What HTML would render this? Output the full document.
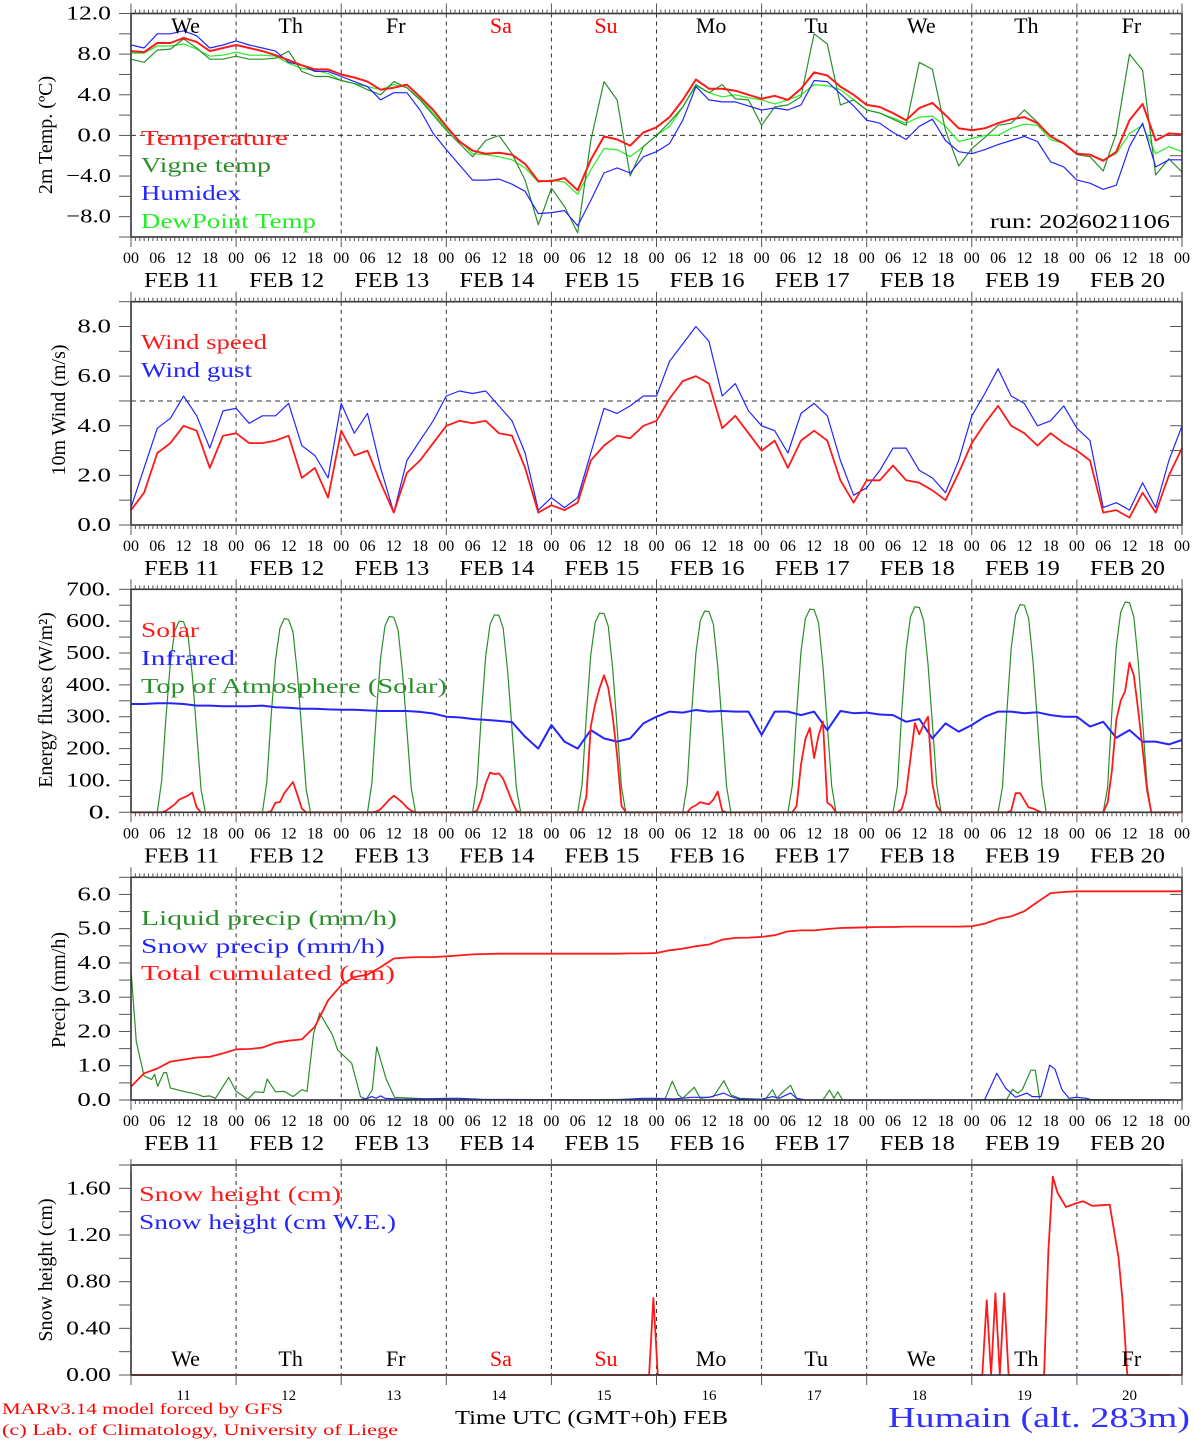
<!DOCTYPE html>
<html><head><meta charset="utf-8"><title>MAR forecast Humain</title>
<style>
html,body{margin:0;padding:0;background:#fff;}
svg{display:block;font-family:"Liberation Serif","DejaVu Serif",serif;}
</style></head>
<body>
<svg id="chart" width="1194" height="1440" viewBox="0 0 1194 1440" xmlns="http://www.w3.org/2000/svg">
<rect x="0" y="0" width="1194" height="1440" fill="#fff"/>
<g id="grid"></g>
<g id="series"></g>
<g id="axes"></g>
<g id="labels"></g>
</svg>
<script>
// ---------- data (3-hourly, 81 points from FEB 11 00 UTC) ----------
const days = ["11","12","13","14","15","16","17","18","19","20"];
const dayNames = ["We","Th","Fr","Sa","Su","Mo","Tu","We","Th","Fr"];
const dayColors = ["#000","#000","#000","#f00","#f00","#000","#000","#000","#000","#000"];
const hourLabels = ["00","06","12","18"];

const tempVals = [8.3,8.2,9.1,9.1,9.6,9.2,8.3,8.6, 8.9,8.6,8.3,7.9,7.4,6.9,6.5,6.5, 6.0,5.7,5.3,4.5,4.7,5.0,3.8,2.5, 0.9,-0.6,-1.5,-1.8,-1.7,-1.9,-2.8,-4.5, -4.5,-4.2,-5.4,-2.4,-0.1,-0.4,-1.0,0.3,
 0.8,1.8,3.5,5.5,4.6,4.6,4.4,4.0, 3.6,3.9,3.5,4.6,6.2,5.9,4.8,4.0, 3.0,2.8,2.2,1.5,2.7,3.2,2.0,0.7, 0.5,0.7,1.2,1.6,1.8,1.2,-0.1,-0.8, -1.8,-1.9,-2.5,-1.6,1.5,3.1,-0.5,0.2, 0.1];
const vigneVals = [7.5,7.2,8.4,8.5,9.5,8.6,7.5,7.5, 7.8,7.5,7.5,7.6,8.3,6.3,5.8,5.8, 5.4,5.1,4.5,4.0,5.3,4.7,3.5,2.0, 0.5,-0.8,-2.1,-0.5,0.0,-1.8,-4.4,-8.8, -5.2,-7.0,-9.6,-0.5,5.3,3.5,-4.0,-1.1,
 0.0,1.3,2.8,5.0,4.2,5.0,3.6,3.5, 1.0,2.8,3.0,3.8,10.0,9.0,3.0,3.5, 2.5,2.2,1.6,1.0,7.2,6.5,0.5,-3.0, -1.3,-0.2,1.0,1.2,2.5,1.3,-0.1,-0.8, -1.9,-2.1,-3.5,0.2,8.0,6.4,-3.9,-2.3, -3.6];
const humidexVals = [8.9,8.6,10.0,10.0,10.3,9.8,8.6,8.9, 9.3,8.9,8.6,8.3,7.2,6.9,6.3,6.3, 5.8,5.3,4.8,3.5,4.2,4.2,2.5,0.2, -1.4,-2.9,-4.4,-4.4,-4.3,-4.8,-5.5,-7.7, -7.6,-7.4,-8.9,-6.4,-3.7,-3.2,-3.7,-2.1,
 -1.6,-0.8,1.5,4.8,3.5,3.3,3.3,2.9, 2.5,2.7,2.5,3.0,5.4,5.3,4.1,2.9, 1.5,1.2,0.3,-0.4,0.9,1.6,-0.5,-1.6, -1.8,-1.4,-0.9,-0.5,-0.1,-0.6,-2.6,-3.1, -4.4,-4.7,-5.3,-4.9,-1.1,1.2,-3.1,-2.4, -2.4];
const dewVals = [8.1,8.1,8.8,8.8,9.0,8.5,7.8,7.9, 8.2,7.9,7.9,7.8,7.1,6.6,6.4,6.1, 5.4,5.1,4.8,4.5,5.0,4.7,3.6,2.2, 0.7,-0.5,-1.8,-1.9,-2.1,-2.4,-3.2,-4.6, -4.4,-4.6,-5.8,-3.4,-1.3,-1.4,-2.1,-1.1,
 0.0,0.9,2.8,4.9,4.2,3.8,4.0,3.7, 3.5,3.1,3.5,4.0,5.0,4.9,4.5,3.5, 2.5,2.2,1.7,1.2,1.8,1.9,0.9,-0.6, -0.3,0.0,0.0,0.7,1.1,1.0,-0.4,-0.8, -1.8,-1.9,-2.4,-1.8,0.2,1.0,-1.8,-1.1, -1.6];

const windVals = [0.6,1.3,2.9,3.3,4.0,3.8,2.3,3.6, 3.7,3.3,3.3,3.4,3.6,1.9,2.3,1.1, 3.8,2.8,3.0,1.7,0.5,2.1,2.6,3.3, 4.0,4.2,4.1,4.2,3.7,3.6,2.3,0.5, 0.8,0.6,0.9,2.6,3.2,3.6,3.5,4.0,
 4.2,5.1,5.8,6.0,5.7,3.9,4.4,3.7, 3.0,3.4,2.3,3.4,3.8,3.4,1.8,0.9, 1.8,1.8,2.4,1.8,1.7,1.4,1.0,2.1, 3.3,4.1,4.8,4.0,3.7,3.2,3.7,3.3, 3.0,2.6,0.5,0.6,0.3,1.3,0.5,2.0, 3.1];
const gustVals = [0.7,2.3,3.9,4.3,5.2,4.4,3.1,4.6, 4.7,4.1,4.4,4.4,4.9,3.2,2.8,1.9, 4.9,3.7,4.5,2.3,0.5,2.6,3.4,4.2, 5.2,5.4,5.3,5.4,4.8,4.2,2.9,0.6, 1.1,0.7,1.1,2.9,4.7,4.5,4.8,5.2,
 5.2,6.6,7.3,8.0,7.4,5.2,5.7,4.6, 4.0,3.8,2.9,4.5,4.9,4.4,2.6,1.2, 1.5,2.2,3.1,3.1,2.2,1.9,1.3,2.6, 4.4,5.3,6.3,5.2,4.9,4.0,4.2,4.8, 3.9,3.4,0.7,0.9,0.6,1.7,0.7,2.6, 4.0];

const infraredVals = [340,340,342,342,340,335,335,333, 333,333,335,330,328,325,325,323, 322,322,320,318,318,318,315,310, 300,298,293,290,287,283,237,200, 274,222,200,258,232,222,232,279,
 300,316,313,321,316,318,316,316, 243,316,316,305,316,258,318,311, 313,307,305,284,293,232,279,253, 274,300,316,316,311,314,305,300, 300,269,284,234,258,222,222,213, 227];

// hourly values 06..17 UTC for each day
const toaByDay = [
 [0,100,300,470,570,600,598,560,430,250,70,0],
 [0,95,300,478,578,608,605,566,435,255,72,0],
 [0,92,302,485,585,615,612,572,440,258,74,0],
 [0,90,304,490,590,620,618,578,445,262,76,0],
 [0,88,306,495,596,625,624,584,450,266,78,0],
 [0,86,308,500,602,632,630,590,455,270,80,0],
 [0,84,310,505,608,638,636,596,460,274,82,0],
 [0,82,312,510,614,645,643,602,465,278,84,0],
 [0,80,314,515,620,652,650,608,470,282,86,0],
 [0,78,316,520,628,660,658,614,475,286,88,0]];
const solarByDay = [
 [0,0,5,15,25,40,46,52,62,15,0,0],
 [0,0,3,30,32,60,78,95,55,12,0,0],
 [0,0,2,10,25,40,52,42,30,15,5,0],
 [0,5,40,90,125,120,122,105,70,35,5,0],
 [0,0,50,270,340,390,430,390,300,180,20,0],
 [0,0,15,22,32,28,25,40,65,5,0,0],
 [0,0,20,150,230,265,170,240,285,30,20,0],
 [0,0,10,60,170,280,245,275,300,90,20,0],
 [0,0,0,5,60,60,38,15,12,5,0,0],
 [0,30,130,290,350,380,470,430,320,200,70,0]];

const cumulVals = [0.39,0.78,0.92,1.12,1.18,1.24,1.26,1.36, 1.48,1.49,1.53,1.67,1.73,1.77,2.14,2.91, 3.35,3.59,3.66,3.88,4.13,4.16,4.17,4.17, 4.19,4.22,4.25,4.26,4.27,4.27,4.27,4.27, 4.27,4.27,4.27,4.27,4.27,4.27,4.28,4.28,
 4.29,4.37,4.42,4.49,4.54,4.68,4.73,4.74, 4.76,4.81,4.92,4.95,4.95,4.99,5.02,5.03, 5.04,5.05,5.05,5.06,5.06,5.06,5.06,5.06, 5.07,5.15,5.29,5.36,5.51,5.78,6.04,6.07, 6.09,6.09,6.09,6.09,6.09,6.09,6.09,6.09, 6.09];

// irregular series: hours since FEB 11 00 UTC and values
const liquidHours = [0,1.2,3,4.7,5.4,6.1,7.5,8.1,9,12,15,16.5,18,19.3,22.3,24,26.7,28.3,30.3,31.1,33,35,37,39,40.2,41.7,43.1,46,47.2,50.4,52.4,53.7,55.1,56.1,58.3,60.2,62.6,68,76,92,119.4,122,123.6,125,126,128.6,130,133,135.4,137,139,144,145,146.5,147.5,149,150.6,152,154,158,159.5,160.5,161.4,162.5,192,200,201.3,202.5,203.5,205.5,206.5,207.5,240];
const liquidVals  = [3.8,1.7,0.7,0.6,0.75,0.4,0.8,0.8,0.35,0.25,0.17,0.1,0.12,0.05,0.66,0.25,0.02,0.24,0.22,0.61,0.24,0.25,0.1,0.3,0.25,1.94,2.54,1.9,1.46,1.07,0.1,0.02,0.3,1.55,0.6,0.08,0.06,0.03,0.02,0,0.02,0.05,0.55,0.15,0.05,0.37,0.05,0.1,0.56,0.15,0.05,0.02,0.05,0.3,0.05,0.25,0.43,0.05,0,0,0.29,0.05,0.24,0,0,0.02,0.31,0.2,0.3,0.87,0.87,0.02,0];
const snowPrHours = [0,52,54,55,56,57,58,62,72,75,80,110,117,120,124,128,132,135.4,137,139,144,146.5,148,150.6,152,154,192,194.9,197.7,199.7,202,204.6,205.8,207.8,209.8,211,212.6,214.2,215.8,218.2,219.4,240];
const snowPrVals  = [0,0,0.05,0.1,0.05,0.12,0.05,0.02,0.05,0.05,0.02,0,0.05,0.05,0.03,0.08,0.08,0.2,0.1,0.03,0.02,0.1,0.05,0.2,0.05,0,0,0,0.78,0.35,0.08,0.2,0.1,0.1,1.02,0.9,0.3,0.05,0.08,0.05,0,0];
const snowHHours = [0,118.3,119.3,120.3,194.4,195.4,196.4,197.4,198.4,199.4,200.4,208.5,209.5,210.5,211.6,213.5,215.7,217.4,219.5,223.5,225.5,226.4,227.5,240];
const snowHVals  = [0,0,0.66,0,0,0.64,0,0.70,0,0.70,0,0,1.07,1.70,1.56,1.44,1.47,1.49,1.45,1.46,1.01,0.65,0,0];
const snowWEHours = [0,240];
const snowWEVals  = [0,0];

// ---------- layout ----------
const NS="http://www.w3.org/2000/svg";
const X0=131, X1=1182, HT=240;
const xs = h => X0 + h*(X1-X0)/HT;
const P = [
 {top:13.5, bottom:237, min:-10, max:12},
 {top:301.7, bottom:525, min:0, max:9},
 {top:589.3, bottom:812.3, min:0, max:700},
 {top:877.3, bottom:1100, min:0, max:6.5},
 {top:1165, bottom:1375, min:0, max:1.8}];
const ys = (p,v) => p.bottom - (v-p.min)/(p.max-p.min)*(p.bottom-p.top);
const G = id => document.getElementById(id);
function mk(parent, tag, attrs, txt){
  const e=document.createElementNS(NS,tag);
  for(const k in attrs) e.setAttribute(k, attrs[k]);
  if(txt!==undefined) e.textContent=txt;
  G(parent).appendChild(e);
  return e;
}
function path(pts){return pts.map((p,i)=>(i?"L":"M")+p[0].toFixed(1)+" "+p[1].toFixed(1)).join(" ");}
function series3(p, vals, color, w, name){
  const pts = vals.map((v,i)=>[xs(i*3), ys(p,v)]);
  const e=mk("series","path",{d:path(pts),fill:"none",stroke:color,"stroke-width":w,"stroke-linejoin":"round"});
  
  
}
function seriesXY(p, hrs, vals, color, w, name){
  const pts = vals.map((v,i)=>[xs(hrs[i]), ys(p,v)]);
  const e=mk("series","path",{d:path(pts),fill:"none",stroke:color,"stroke-width":w,"stroke-linejoin":"round"});
  
  
}
function seriesDaily(p, byDay, color, w, name){
  const pts=[[xs(0),ys(p,0)]];
  byDay.forEach((arr,d)=>arr.forEach((v,k)=>pts.push([xs(d*24+6+k), ys(p,v)])));
  pts.push([xs(240),ys(p,0)]);
  const e=mk("series","path",{d:path(pts),fill:"none",stroke:color,"stroke-width":w,"stroke-linejoin":"round"});
  
  
}
function txt(x,y,s,opts){
  const a={x:x,y:y,"font-size":opts.size||18,fill:opts.fill||"#000","text-anchor":opts.anchor||"start"};
  if(opts.len){a.textLength=opts.len;a.lengthAdjust="spacingAndGlyphs";}
  if(opts.rot){a.transform="rotate(-90 "+x+" "+y+")";}
  const e=mk("labels","text",a,s);
  return e;
}

const C = {red:"#ff1a1a", dgreen:"#2a8f2a", blue:"#2424ff", lgreen:"#22ee22", axis:"#333"};

// ---------- grids / frames ----------
P.forEach((p,pi)=>{
  for(let d=1; d<10; d++){
    const e=mk("grid","line",{x1:xs(d*24),x2:xs(d*24),y1:p.top,y2:p.bottom,stroke:"#333","stroke-width":1,"stroke-dasharray":"4,4"});
    
    
  }
  const f=mk("axes","rect",{x:X0,y:p.top,width:X1-X0,height:p.bottom-p.top,fill:"none",stroke:C.axis,"stroke-width":1.6});
  
  
  if(pi<4){
    for(let h=0; h<=240; h++){
      const L = h%24===0 ? 10 : 4;
      const x=xs(h);
      const t1=mk("axes","line",{x1:x,x2:x,y1:p.top,y2:p.top-L,stroke:"#555","stroke-width":1});
      
      
      const t2=mk("axes","line",{x1:x,x2:x,y1:p.bottom,y2:p.bottom+L,stroke:"#555","stroke-width":1});
      
      
    }
  } else {
    for(let d=0; d<=10; d++){
      const x=xs(d*24);
      const t1=mk("axes","line",{x1:x,x2:x,y1:p.top-6,y2:p.top+6,stroke:"#555","stroke-width":1});
      
      
      const t2=mk("axes","line",{x1:x,x2:x,y1:p.bottom,y2:p.bottom+10,stroke:"#555","stroke-width":1});
      
      
    }
  }
});

// y ticks
const yTicks = [
 {minor:2, major:[12,8,4,0,-4,-8], fmt:v=>(v<0?"\u2212":"")+Math.abs(v).toFixed(1)},
 {minor:1, major:[0,2,4,6,8], fmt:v=>v.toFixed(1)},
 {minor:50, major:[0,100,200,300,400,500,600,700], fmt:v=>v+"."},
 {minor:0.5, major:[0,1,2,3,4,5,6], fmt:v=>v.toFixed(1)},
 {minor:0.2, major:[0,0.4,0.8,1.2,1.6], fmt:v=>v.toFixed(2)}];
P.forEach((p,pi)=>{
  const t=yTicks[pi];
  for(let v=p.min; v<=p.max+1e-9; v+=t.minor){
    const y=ys(p,v);
    const a=mk("axes","line",{x1:X0-12,x2:X0,y1:y,y2:y,stroke:"#555","stroke-width":1});
    
    
    const b=mk("axes","line",{x1:X1-12,x2:X1,y1:y,y2:y,stroke:"#555","stroke-width":1});
    
    
  }
  t.major.forEach(v=>{
    const s=t.fmt(v);
    const e=txt(111, ys(p,v)+6, s, {size:20, anchor:"end", len:s.length*11.2});
    
    
  });
});

// reference dashed lines
[[0,0],[1,5]].forEach(([pi,v])=>{
  const y=ys(P[pi],v);
  const e=mk("grid","line",{x1:X0,x2:X1,y1:y,y2:y,stroke:"#333","stroke-width":1,"stroke-dasharray":"5,4"});
  
  
});

// x labels panels 1-4
for(let pi=0; pi<4; pi++){
  const p=P[pi];
  for(let d=0; d<=10; d++){
    for(let q=0; q<4; q++){
      if(d===10 && q>0) break;
      const e=txt(xs(d*24+q*6), p.bottom+26, hourLabels[q], {size:16, anchor:"middle"});
      
      
    }
  }
  days.forEach((dd,d)=>{
    const e=txt(xs(d*24+12)-2, p.bottom+50, "FEB "+dd, {size:21, anchor:"middle", len:75});
    
    
  });
}
// day names
dayNames.forEach((n,d)=>{
  const a=txt(xs(d*24+12)+2, 33, n, {size:22, anchor:"middle", fill:dayColors[d]});
  
  
  const b=txt(xs(d*24+12)+2, 1366, n, {size:22, anchor:"middle", fill:dayColors[d]});
  
  
  const c=txt(xs(d*24+12), 1400, days[d], {size:15, anchor:"middle"});
  
  
});

// ---------- series ----------
series3(P[0], dewVals, C.lgreen, 1.2, 'dewpoint-line');
series3(P[0], vigneVals, C.dgreen, 1.2, 'vigne-temp-line');
series3(P[0], humidexVals, C.blue, 1.2, 'humidex-line');
series3(P[0], tempVals, C.red, 2, 'temperature-line');

series3(P[1], gustVals, C.blue, 1.2, 'wind-gust-line');
series3(P[1], windVals, C.red, 1.8, 'wind-speed-line');

seriesDaily(P[2], toaByDay, C.dgreen, 1.2, 'toa-solar-line');
series3(P[2], infraredVals, C.blue, 2, 'infrared-line');
seriesDaily(P[2], solarByDay, C.red, 1.8, 'solar-line');

seriesXY(P[3], liquidHours, liquidVals, C.dgreen, 1.2, 'liquid-precip-line');
seriesXY(P[3], snowPrHours, snowPrVals, C.blue, 1.2, 'snow-precip-line');
series3(P[3], cumulVals, C.red, 1.8, 'cumulated-precip-line');

seriesXY(P[4], snowWEHours, snowWEVals, C.blue, 1.2, 'snow-we-line');
seriesXY(P[4], snowHHours, snowHVals, C.red, 1.8, 'snow-height-line');

// ---------- legends ----------
const legends = [
 [141,145,"Temperature",C.red,147],[141,172,"Vigne temp",C.dgreen,130],[141,200,"Humidex",C.blue,100],[141,228,"DewPoint Temp",C.lgreen,175],
 [141,349,"Wind speed",C.red,126],[141,377,"Wind gust",C.blue,111],
 [141,637,"Solar",C.red,58],[141,665,"Infrared",C.blue,94],[141,693,"Top of Atmosphere (Solar)",C.dgreen,306],
 [141,925,"Liquid precip (mm/h)",C.dgreen,256],[141,953,"Snow precip (mm/h)",C.blue,244],[141,980,"Total cumulated (cm)",C.red,254],
 [139,1201,"Snow height (cm)",C.red,202],[139,1229,"Snow height (cm W.E.)",C.blue,257]];
legends.forEach(l=>{
  const e=txt(l[0],l[1],l[2],{size:21,fill:l[3],len:l[4]});
  
  
});
const run=txt(990,228,"run: 2026021106",{size:20,len:180});



// axis titles
[[52,135,"2m Temp. (\u00baC)"],[65,410,"10m Wind (m/s)"],[52,700,"Energy fluxes (W/m\u00b2)"],[65,990,"Precip (mm/h)"],[52,1270,"Snow height (cm)"]].forEach(a=>{
  const e=txt(a[0],a[1],a[2],{size:20,anchor:"middle",rot:true});
  
  
});

// footer
const f1=txt(2,1414,"MARv3.14 model forced by GFS",{size:16,fill:"#f00",len:281});


const f2=txt(2,1435,"(c) Lab. of Climatology, University of Liege",{size:16,fill:"#f00",len:396});


const f3=txt(455,1424,"Time UTC (GMT+0h) FEB",{size:20,len:273});


const f4=txt(888,1427,"Humain (alt. 283m)",{size:29,fill:"#3030ff",len:302});


</script>
</body></html>
